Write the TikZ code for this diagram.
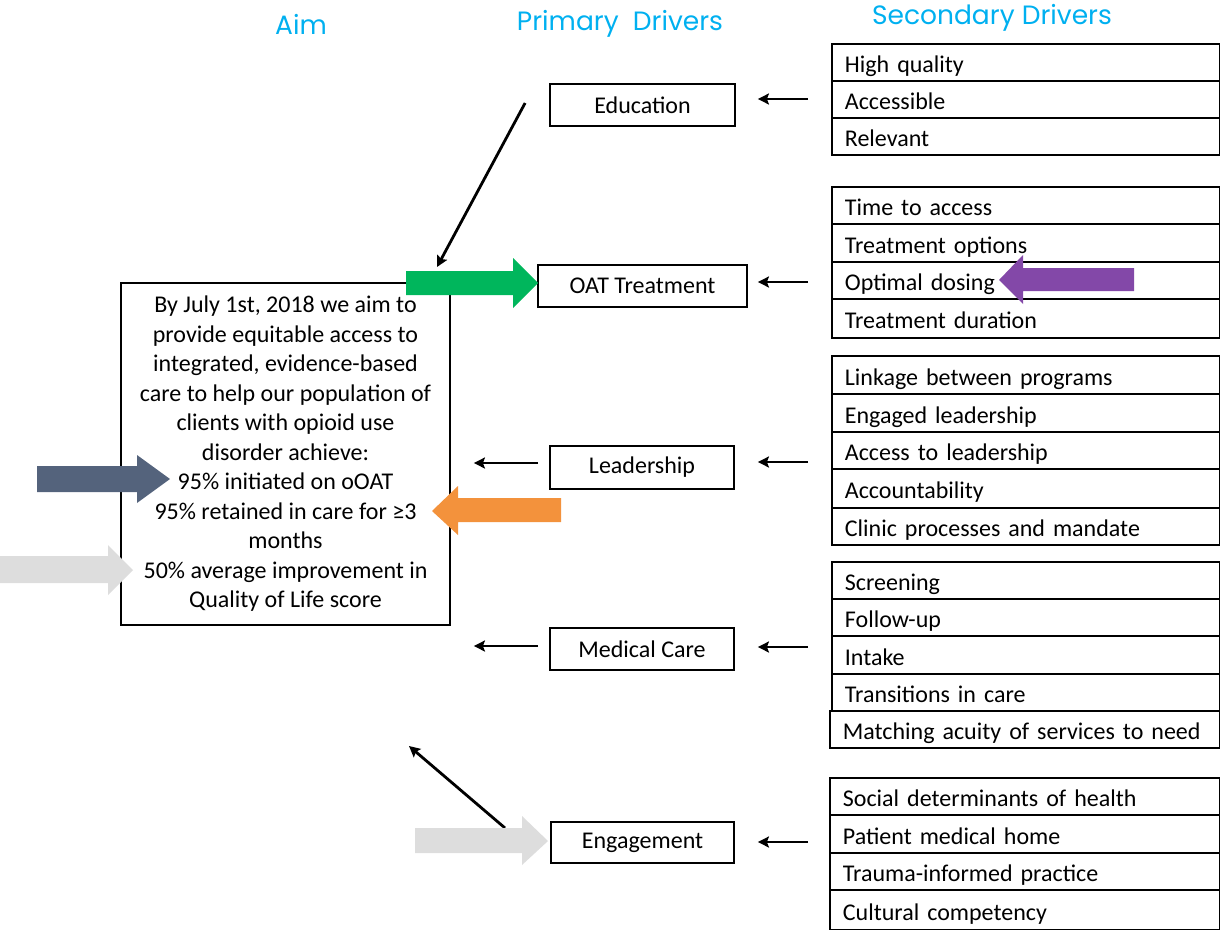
\documentclass[tikz,border=0pt]{standalone}
\usepackage{fontspec}
\setmainfont{Carlito}
\newfontfamily\headfont{Poppins}
\usetikzlibrary{arrows.meta,calc}
\definecolor{headcyan}{RGB}{0,176,240}
\definecolor{greenA}{RGB}{0,182,92}
\definecolor{slateA}{RGB}{84,99,124}
\definecolor{orangeA}{RGB}{243,146,60}
\definecolor{grayA}{RGB}{221,221,221}
\definecolor{purpleA}{RGB}{131,72,168}
\begin{document}
\begin{tikzpicture}[x=1pt,y=-1pt,
  every node/.style={font=\fontsize{24}{29.5}\selectfont},
  header/.style={font=\headfont\fontsize{26.5}{30}\selectfont, text=headcyan, inner sep=0pt},
  primbox/.style={draw, line width=1.8pt, minimum height=42pt, inner sep=0pt},
  rowbox/.style={draw, line width=1.8pt, anchor=north west, text width=362pt, align=left,
                 inner xsep=13pt, inner ysep=0pt, text height=23pt, text depth=2pt},
  sarrow/.style={line width=2.8pt, -{Stealth[length=11pt,width=11pt,inset=2pt]}},
]
\useasboundingbox (0,0) rectangle (1220,929);

% headers
\node[header] (hAim) at (301,24) {Aim};
\node[header] (hPrim) at (620,24) {Primary\ \ Drivers};
\node[header] (hSec) at (992,18) {Secondary Drivers};

% aim box
\node[draw, line width=1.8pt, minimum width=329pt, minimum height=342pt, align=center, inner sep=0pt] (aim) at (285.5,454)
 {By July 1st, 2018 we aim to\\provide equitable access to\\integrated, evidence-based\\care to help our population of\\clients with opioid use\\disorder achieve:\\95\% initiated on oOAT\\95\% retained in care for ≥3\\months\\50\% average improvement in\\Quality of Life score};

% primary drivers
\node[primbox, minimum width=185pt] (edu) at (642.5,105) {Education};
\node[primbox, minimum width=209pt] (oat) at (642.5,286) {OAT Treatment};
\node[primbox, minimum width=184pt, minimum height=43pt] (lead) at (642,467.5) {Leadership};
\node[primbox, minimum width=184pt] (med) at (642,649) {Medical Care};
\node[primbox, minimum width=183pt, minimum height=41pt] (eng) at (642.5,842.5) {Engagement};

% secondary drivers
\node[rowbox, minimum height=37pt] (s11) at (831,43) {High quality};
\node[rowbox, minimum height=37pt] (s12) at (831,80) {Accessible};
\node[rowbox, minimum height=37pt] (s13) at (831,117) {Relevant};

\node[rowbox, minimum height=37pt] (s21) at (831,186) {Time to access};
\node[rowbox, minimum height=38pt] (s22) at (831,223) {Treatment options};
\node[rowbox, minimum height=37pt] (s23) at (831,261) {Optimal dosing};
\node[rowbox, minimum height=39pt] (s24) at (831,298) {Treatment duration};

\node[rowbox, minimum height=38pt] (s31) at (831,355) {Linkage between programs};
\node[rowbox, minimum height=38pt] (s32) at (831,393) {Engaged leadership};
\node[rowbox, minimum height=37pt] (s33) at (831,431) {Access to leadership};
\node[rowbox, minimum height=39pt] (s34) at (831,468) {Accountability};
\node[rowbox, minimum height=37pt] (s35) at (831,507) {Clinic processes and mandate};

\node[rowbox, minimum height=37pt] (s41) at (831,561) {Screening};
\node[rowbox, minimum height=37pt] (s42) at (831,598) {Follow-up};
\node[rowbox, minimum height=38pt] (s43) at (831,635) {Intake};
\node[rowbox, minimum height=37pt] (s44) at (831,673) {Transitions in care};
\node[rowbox, minimum height=37pt, text width=364pt] (s45) at (829,710) {Matching acuity of services to need};

\node[rowbox, minimum height=37pt, text width=364pt] (s51) at (829,777) {Social determinants of health};
\node[rowbox, minimum height=38pt, text width=364pt] (s52) at (829,814) {Patient medical home};
\node[rowbox, minimum height=37pt, text width=364pt] (s53) at (829,852) {Trauma-informed practice};
\node[rowbox, minimum height=40pt, text width=364pt] (s54) at (829,889) {Cultural competency};

% secondary -> primary arrows
\draw[sarrow] ($(s12.west |- edu.east)+(-23,-6)$) -- ($(edu.east)+(22,-6)$);
\draw[sarrow] ($(s23.west |- oat.east)+(-23,-4)$) -- ($(oat.east)+(10,-4)$);
\draw[sarrow] ($(s33.west |- lead.east)+(-23,-5.5)$) -- ($(lead.east)+(23,-5.5)$);
\draw[sarrow] ($(s43.west |- med.east)+(-23,-2)$) -- ($(med.east)+(23,-2)$);
\draw[sarrow] ($(s52.west |- eng.east)+(-21,-0.5)$) -- ($(eng.east)+(23,-0.5)$);

% primary -> aim arrows
\draw[sarrow] ($(lead.west)+(-11,-4.5)$) -- ($(aim.east |- lead.west)+(23,-4.5)$);
\draw[sarrow] ($(med.west)+(-11,-3)$) -- ($(aim.east |- med.west)+(23,-3)$);
\coordinate (eduTail) at ($(edu.west)+(-24,-2)$);
\coordinate (eduTip) at (437,267);
\draw[sarrow] (eduTail) -- (eduTip);
\coordinate (engTail) at (505,828);
\coordinate (engTip) at (409,746);
\draw[sarrow] (engTail) -- (engTip);

% block arrows
\fill[greenA] (406,271) -- (513,271) -- (513,258) -- (538,283) -- (513,308) -- (513,295) -- (406,295) -- cycle;
\fill[slateA] (37,466) -- (137,466) -- (137,455) -- (170,479) -- (137,503) -- (137,492) -- (37,492) -- cycle;
\fill[orangeA] (561,498) -- (458,498) -- (458,486) -- (432,511) -- (458,535) -- (458,522) -- (561,522) -- cycle;
\fill[grayA] (0,556) -- (108,556) -- (108,545) -- (133,570) -- (108,595) -- (108,583) -- (0,583) -- cycle;
\fill[grayA] (415,828) -- (522,828) -- (522,816) -- (548,841) -- (522,865) -- (522,853) -- (415,853) -- cycle;
\fill[purpleA] (1134,268) -- (1023,268) -- (1023,255) -- (999,280) -- (1023,304) -- (1023,291) -- (1134,291) -- cycle;
\end{tikzpicture}
\end{document}
